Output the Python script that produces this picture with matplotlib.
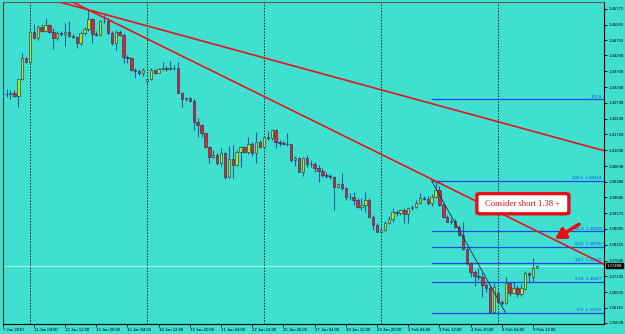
import matplotlib.pyplot as plt
import matplotlib.transforms as mtransforms
from matplotlib.patches import FancyBboxPatch

# H4 candles, 7 Jan 2010 - 9 Feb 2010
opens = [1.4301, 1.4302, 1.4301, 1.4306, 1.4297, 1.4350, 1.4418, 1.4405, 1.4504, 1.4482,
         1.4519, 1.4507, 1.4525, 1.4504, 1.4482, 1.4498, 1.4497, 1.4503, 1.4490, 1.4487,
         1.4466, 1.4498, 1.4511, 1.4545, 1.4496, 1.4494, 1.4539, 1.4538, 1.4498, 1.4466,
         1.4504, 1.4493, 1.4421, 1.4419, 1.4380, 1.4378, 1.4371, 1.4345, 1.4350, 1.4380,
         1.4371, 1.4382, 1.4386, 1.4383, 1.4385, 1.4386, 1.4307, 1.4286, 1.4288, 1.4281,
         1.4213, 1.4202, 1.4175, 1.4130, 1.4100, 1.4105, 1.4079, 1.4111, 1.4035, 1.4092,
         1.4073, 1.4115, 1.4131, 1.4115, 1.4140, 1.4112, 1.4148, 1.4132, 1.4163, 1.4159,
         1.4186, 1.4148, 1.4143, 1.4141, 1.4140, 1.4089, 1.4095, 1.4051, 1.4095, 1.4076,
         1.4075, 1.4062, 1.4054, 1.4041, 1.4039, 1.4034, 1.4003, 1.4012, 1.3999, 1.3971,
         1.3970, 1.3960, 1.3938, 1.3944, 1.3960, 1.3906, 1.3879, 1.3858, 1.3863, 1.3885,
         1.3898, 1.3922, 1.3918, 1.3928, 1.3915, 1.3934, 1.3937, 1.3950, 1.3965, 1.3963,
         1.3951, 1.3970, 1.3992, 1.3944, 1.3906, 1.3890, 1.3892, 1.3874, 1.3847, 1.3801,
         1.3756, 1.3728, 1.3715, 1.3711, 1.3685, 1.3676, 1.3597, 1.3660, 1.3632, 1.3627,
         1.3691, 1.3660, 1.3676, 1.3656, 1.3673, 1.3725, 1.3712, 1.3741]
highs = [1.4322, 1.4319, 1.4315, 1.4315, 1.4351, 1.4435, 1.4422, 1.4509, 1.4528, 1.4525,
         1.4528, 1.4548, 1.4528, 1.4516, 1.4506, 1.4506, 1.4532, 1.4538, 1.4496, 1.4490,
         1.4503, 1.4519, 1.4574, 1.4548, 1.4506, 1.4541, 1.4558, 1.4548, 1.4506, 1.4509,
         1.4509, 1.4499, 1.4428, 1.4422, 1.4386, 1.4383, 1.4386, 1.4354, 1.4386, 1.4383,
         1.4386, 1.4407, 1.4393, 1.4409, 1.4396, 1.4406, 1.4309, 1.4293, 1.4293, 1.4286,
         1.4225, 1.4205, 1.4176, 1.4134, 1.4122, 1.4112, 1.4128, 1.4115, 1.4134, 1.4138,
         1.4122, 1.4134, 1.4134, 1.4163, 1.4147, 1.4181, 1.4154, 1.4167, 1.4183, 1.4189,
         1.4189, 1.4154, 1.4151, 1.4176, 1.4141, 1.4102, 1.4099, 1.4099, 1.4105, 1.4089,
         1.4083, 1.4073, 1.4063, 1.4050, 1.4044, 1.4037, 1.4015, 1.4047, 1.4002, 1.3983,
         1.3986, 1.3966, 1.3966, 1.3986, 1.3966, 1.3912, 1.3886, 1.3876, 1.3893, 1.3908,
         1.3934, 1.3928, 1.3931, 1.3934, 1.3937, 1.3944, 1.3960, 1.3984, 1.3973, 1.3973,
         1.3979, 1.4021, 1.4005, 1.3950, 1.3912, 1.3902, 1.3899, 1.3879, 1.3889, 1.3805,
         1.3760, 1.3734, 1.3740, 1.3724, 1.3692, 1.3685, 1.3692, 1.3663, 1.3637, 1.3712,
         1.3692, 1.3695, 1.3686, 1.3689, 1.3731, 1.3727, 1.3774, 1.3751]
lows = [1.4293, 1.4293, 1.4286, 1.4293, 1.4260, 1.4348, 1.4403, 1.4403, 1.4480, 1.4477,
        1.4503, 1.4503, 1.4499, 1.4448, 1.4477, 1.4490, 1.4457, 1.4486, 1.4483, 1.4451,
        1.4461, 1.4493, 1.4506, 1.4467, 1.4490, 1.4490, 1.4532, 1.4496, 1.4461, 1.4445,
        1.4490, 1.4403, 1.4403, 1.4377, 1.4354, 1.4364, 1.4361, 1.4331, 1.4348, 1.4367,
        1.4370, 1.4380, 1.4377, 1.4380, 1.4380, 1.4306, 1.4260, 1.4280, 1.4277, 1.4186,
        1.4163, 1.4163, 1.4128, 1.4079, 1.4096, 1.4073, 1.4070, 1.4028, 1.4031, 1.4031,
        1.4070, 1.4067, 1.4112, 1.4109, 1.4102, 1.4079, 1.4128, 1.4128, 1.4154, 1.4154,
        1.4128, 1.4134, 1.4138, 1.4134, 1.4083, 1.4070, 1.4050, 1.4037, 1.4067, 1.4067,
        1.4050, 1.4018, 1.4034, 1.4031, 1.4028, 1.3928, 1.3999, 1.3992, 1.3960, 1.3960,
        1.3944, 1.3934, 1.3928, 1.3921, 1.3902, 1.3863, 1.3857, 1.3853, 1.3860, 1.3882,
        1.3889, 1.3908, 1.3912, 1.3886, 1.3886, 1.3928, 1.3934, 1.3947, 1.3960, 1.3944,
        1.3941, 1.3968, 1.3941, 1.3902, 1.3889, 1.3882, 1.3870, 1.3844, 1.3799, 1.3750,
        1.3711, 1.3682, 1.3702, 1.3647, 1.3663, 1.3595, 1.3595, 1.3627, 1.3621, 1.3624,
        1.3650, 1.3656, 1.3647, 1.3650, 1.3669, 1.3692, 1.3695, 1.3740]
closes = [1.4302, 1.4301, 1.4306, 1.4297, 1.4350, 1.4418, 1.4405, 1.4504, 1.4482, 1.4519,
          1.4507, 1.4525, 1.4504, 1.4482, 1.4498, 1.4497, 1.4503, 1.4490, 1.4487, 1.4466,
          1.4498, 1.4511, 1.4545, 1.4496, 1.4494, 1.4539, 1.4538, 1.4498, 1.4466, 1.4504,
          1.4493, 1.4421, 1.4419, 1.4380, 1.4378, 1.4371, 1.4380, 1.4350, 1.4380, 1.4371,
          1.4382, 1.4386, 1.4383, 1.4385, 1.4386, 1.4307, 1.4286, 1.4288, 1.4281, 1.4213,
          1.4202, 1.4175, 1.4130, 1.4100, 1.4105, 1.4079, 1.4111, 1.4035, 1.4092, 1.4073,
          1.4115, 1.4131, 1.4115, 1.4140, 1.4112, 1.4148, 1.4132, 1.4163, 1.4159, 1.4186,
          1.4148, 1.4143, 1.4141, 1.4140, 1.4089, 1.4095, 1.4051, 1.4095, 1.4076, 1.4075,
          1.4062, 1.4054, 1.4041, 1.4039, 1.4034, 1.4003, 1.4012, 1.3999, 1.3971, 1.3970,
          1.3960, 1.3938, 1.3944, 1.3960, 1.3906, 1.3879, 1.3858, 1.3863, 1.3885, 1.3898,
          1.3922, 1.3918, 1.3928, 1.3915, 1.3934, 1.3937, 1.3950, 1.3965, 1.3963, 1.3951,
          1.3970, 1.3992, 1.3944, 1.3906, 1.3890, 1.3892, 1.3874, 1.3847, 1.3801, 1.3756,
          1.3728, 1.3715, 1.3711, 1.3685, 1.3676, 1.3597, 1.3680, 1.3632, 1.3627, 1.3691,
          1.3660, 1.3676, 1.3656, 1.3676, 1.3725, 1.3718, 1.3741, 1.3748]

time_labels = ["7 Jan 2010", "11 Jan 04:00", "12 Jan 12:00", "13 Jan 20:00", "15 Jan 04:00",
               "18 Jan 12:00", "19 Jan 20:00", "21 Jan 04:00", "22 Jan 12:00", "25 Jan 20:00",
               "27 Jan 04:00", "28 Jan 12:00", "29 Jan 20:00", "2 Feb 04:00", "3 Feb 12:00",
               "4 Feb 20:00", "8 Feb 04:00", "9 Feb 12:00"]
time_label_bars = list(range(0, 137, 8))
week_starts = [7, 37, 67, 97, 127]

price_labels = ["1.45775", "1.45265", "1.44755", "1.44268", "1.43758", "1.43248", "1.42738",
                "1.42228", "1.41718", "1.41208", "1.40698", "1.40188", "1.39685", "1.39175",
                "1.38665", "1.38155", "1.37645", "1.37135", "1.36625", "1.36115", "1.35628"]

# trend lines (bar, price) pairs
trend_a = [(22, 1.4574), (154, 1.4120)]
trend_b = [(22, 1.4574), (111, 1.4021)]

# fibonacci retracement
fib_start, fib_end = 110, 129
fib_high, fib_low = 1.40214, 1.35947
fib_ratios = [1.618, 1.0, 0.618, 0.5, 0.382, 0.236, 0.0]
fib_texts = ["161.8", "100.0  1.40214", "61.8  1.38546", "50.0  1.38030",
             "38.2  1.37515", "23.6  1.36877", "0.0  1.35947"]
current_price_text = "1.37488"

bg = '#40E0D0'
small = dict(family='Liberation Sans', size=3.1)

fig = plt.figure(figsize=(6.25, 3.34), dpi=100, facecolor=bg)
ax = fig.add_axes([2.5 / 625, 10 / 334, 601.5 / 625, 322 / 334])
ax.set_facecolor(bg)
ax.set_xlim(-0.05, 154.2)
ax.set_ylim(1.35595, 1.45995)

# week separators
for w in week_starts:
    ax.axvline(w, color='#101818', lw=0.7, ls=(0, (1.5, 1.5)), zorder=1)

# current price line
ax.axhline(closes[-1], color='#b8f2ec', lw=0.6, zorder=1)

# candles
idx = list(range(len(closes)))
ax.vlines(idx, lows, highs, color='#1f5a9a', lw=0.8, zorder=3)
for i in idx:
    o, c = opens[i], closes[i]
    fill = '#b4e61e' if c >= o else '#e8202a'
    h = max(abs(c - o), 0.00005)
    ax.bar(i, h, bottom=min(o, c), width=0.62, color=fill,
           edgecolor='#1a2a5a', linewidth=0.4, zorder=4)

# trend lines
ax.axline(trend_a[0], trend_a[1], color='#e8141c', lw=1.2, zorder=5)
ax.axline(trend_b[0], trend_b[1], color='#e8141c', lw=1.2, zorder=5)

# fibo
rng = fib_high - fib_low
ax.plot([fib_start, fib_end], [fib_high, fib_low], color='#1c2c3c', lw=0.6, zorder=5)
for r, t in zip(fib_ratios, fib_texts):
    lvl = fib_low + r * rng
    ax.plot([fib_start, 154.2], [lvl, lvl], color='#1e46e6', lw=0.9, zorder=2)
    ax.text(153.6, lvl + 0.0002, t, ha='right', va='bottom', fontsize=3.2,
            family='Liberation Sans', color='#1e46e6', zorder=6)

# callout
box = FancyBboxPatch((121.8, 1.3916), 23.2, 0.0064,
                     boxstyle="round,pad=0.2,rounding_size=1.2",
                     mutation_aspect=0.0003, facecolor='white', edgecolor='#e80c14',
                     linewidth=2.4, zorder=7)
ax.add_patch(box)
ax.text(133.4, 1.3948, "Consider short 1.38 +", ha='center', va='center',
        fontsize=6.2, family='Liberation Serif', color='#d0101a', zorder=8)
ax.annotate("", xy=(141.0, 1.3829), xytext=(148.4, 1.3886),
            arrowprops=dict(arrowstyle='-|>,head_length=0.6,head_width=0.35',
                            color='#e80c14', lw=2.6, mutation_scale=10), zorder=8)

# axes
ax.set_xticks(time_label_bars)
ax.set_xticklabels(time_labels, ha='left', **small)
ax.set_yticks([float(p) for p in price_labels])
ax.set_yticklabels(price_labels, **small)
ax.yaxis.tick_right()
ax.tick_params(axis='both', length=2, width=0.6, pad=1, colors='black')
for s in ['right', 'bottom']:
    ax.spines[s].set_color('black')
    ax.spines[s].set_linewidth(0.8)
ax.spines['left'].set_color('#303030')
ax.spines['top'].set_color('#606060')

trans = mtransforms.blended_transform_factory(ax.transAxes, ax.transData)
ax.text(1.005, closes[-1], current_price_text, transform=trans, color='white',
        va='center', ha='left', bbox=dict(boxstyle='square,pad=0.12', fc='black', ec='black'),
        zorder=9, clip_on=False, **small)

fig.savefig('out.png', dpi=100, facecolor=bg)
